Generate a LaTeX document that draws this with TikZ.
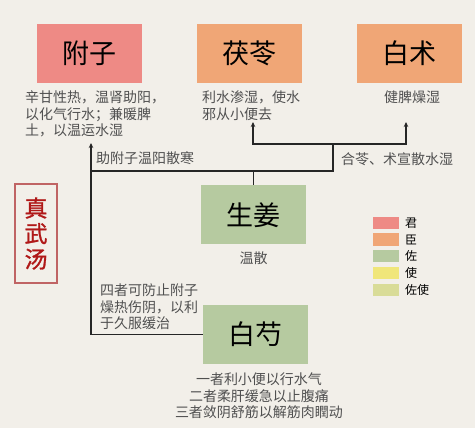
\documentclass[tikz,border=0pt]{standalone}
\usepackage{fontspec}
\setmainfont{Noto Sans CJK SC}
\newfontfamily\titlefont[FakeBold=1.2]{Noto Sans CJK SC}
\usetikzlibrary{arrows.meta}
\definecolor{bg}{HTML}{F2EFE9}
\definecolor{jun}{HTML}{EE8A85}
\definecolor{chen}{HTML}{F0A676}
\definecolor{zuo}{HTML}{B6CAA0}
\definecolor{shi}{HTML}{F0E67A}
\definecolor{zuoshi}{HTML}{D9DC98}
\definecolor{desc}{HTML}{505050}
\definecolor{titlec}{HTML}{B01818}
\definecolor{titlebd}{HTML}{C06464}
\begin{document}
\begin{tikzpicture}[x=1pt,y=-1pt,
 herb/.style={minimum width=105pt,minimum height=59pt,inner sep=0,font=\fontsize{27}{30}\selectfont},
 desc/.style={text=desc,inner sep=0,font=\fontsize{14}{16.7}\selectfont,align=left},
 link/.style={line width=1.3pt,draw=black!85},
 arr/.style={link,-{Stealth[length=5pt,width=4.5pt]}},
 lab/.style={text=desc,inner sep=0,font=\fontsize{14}{16.7}\selectfont,anchor=west},
 sw/.style={minimum width=26pt,minimum height=12.5pt,inner sep=0},
 legt/.style={font=\fontsize{12}{13}\selectfont,anchor=west,inner sep=0}]
\fill[bg] (0,0) rectangle (475,428);
\useasboundingbox (0,0) rectangle (475,428);
% herbs
\node[herb,fill=jun] (fz) at (89.5,53.5) {附子};
\node[herb,fill=chen] (fl) at (249.5,53.5) {茯苓};
\node[herb,fill=chen] (bz) at (409,53.5) {白术};
\node[herb,fill=zuo] (sj) at (253.5,215) {生姜};
\node[herb,fill=zuo] (bs) at (255.5,334.5) {白芍};
% descriptions
\node[desc,anchor=north west] (fzd) at (25,90.5) {辛甘性热，温肾助阳，\\以化气行水；兼暖脾\\土，以温运水湿};
\node[desc,anchor=north west] (fld) at (202,90.5) {利水渗湿，使水\\邪从小便去};
\node[desc,anchor=north] (bzd) at (412,90.5) {健脾燥湿};
\node[desc,anchor=north] (sjd) at (253.5,251.5) {温散};
\node[desc,anchor=north,align=center] (bsd) at (259,372.5) {一者利小便以行水气\\二者柔肝缓急以止腹痛\\三者敛阴舒筋以解筋肉瞤动};
% connector labels
\node[lab] (l1) at (96,158) {助附子温阳散寒};
\node[lab] (l2) at (341,159) {合苓、术宣散水湿};
\node[desc,anchor=north west] (l3) at (100,283.5) {四者可防止附子\\燥热伤阴，以利\\于久服缓治};
% connectors
\coordinate (j1) at (91,171);
\coordinate (j4) at (333,144);
\coordinate (t0) at (91,143);
\coordinate (t1) at (253,122);
\coordinate (t2) at (406,122);
\draw[arr] (bs.west) -| (t0);
\draw[link] (j1) -| (sj.north);
\draw[link] (sj.north |- j1) -| (j4);
\draw[arr] (j4) -| (t1);
\draw[arr] (j4) -| (t2);
% title
\node[draw=titlebd,line width=2.5pt,minimum width=42pt,minimum height=99pt,inner sep=0] (tt) at (36,233.5) {};
\node[text=titlec,align=center,inner sep=0,font=\titlefont\fontsize{23}{25.5}\selectfont] (ttx) at (tt.center) {真\\武\\汤};
% legend
\node[sw,fill=jun] (s1) at (386,223) {};
\node[sw,fill=chen] (s2) at (386,239.5) {};
\node[sw,fill=zuo] (s3) at (386,256) {};
\node[sw,fill=shi] (s4) at (386,273) {};
\node[sw,fill=zuoshi] (s5) at (386,290) {};
\node[legt] (g1) at (405,223) {君};
\node[legt] (g2) at (405,239.5) {臣};
\node[legt] (g3) at (405,256) {佐};
\node[legt] (g4) at (405,273) {使};
\node[legt] (g5) at (405,290) {佐使};
\end{tikzpicture}
\end{document}
